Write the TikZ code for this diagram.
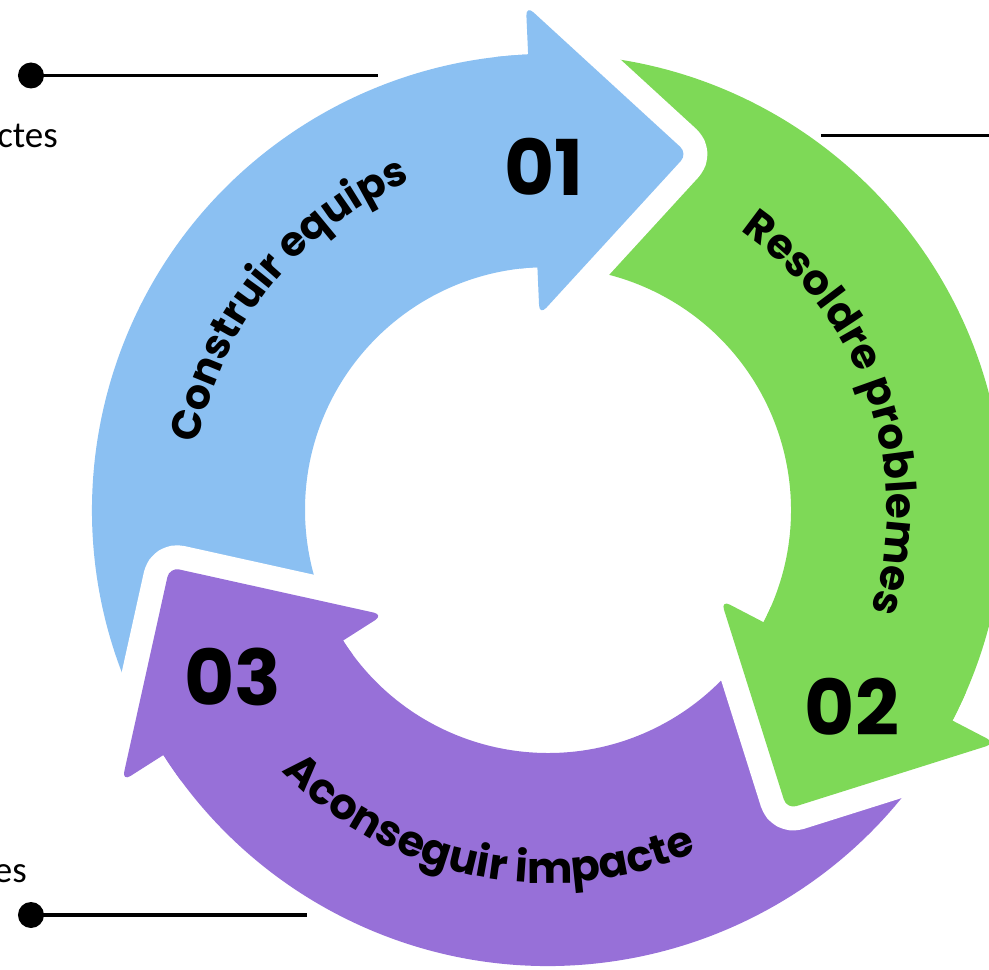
\documentclass[tikz,border=0pt]{standalone}
\usepackage{fontspec}
\setmainfont{Poppins}
\newfontfamily\carl{Carlito}
\usetikzlibrary{calc,decorations.text}
\definecolor{cblue}{HTML}{8BC0F2}
\definecolor{cgreen}{HTML}{7ED957}
\definecolor{cpurple}{HTML}{9770D8}

\begin{document}
\begin{tikzpicture}[x=1pt,y=1pt,
  gap/.style={white, line width=48pt, line join=round, rounded corners=10pt},
  num/.style={font=\bfseries\fontsize{77}{77}\selectfont, inner sep=0pt},
  lead/.style={line width=3.5pt},
  dot/.style={circle, fill=black, minimum size=26pt, inner sep=0pt},
  side/.style={font=\carl\fontsize{37}{37}\selectfont, anchor=base east, inner sep=0pt}
]
\useasboundingbox (-548,-460) rectangle (441,510);
\clip (-548,-460) rectangle (441,510);

% ring segments: inner radius 243, outer radius 456, each spanning 120 degrees
\foreach \H/\c in {92.5/cblue, -27.5/cgreen, 212.5/cpurple} {
  \fill[\c] (\H+120:456) arc[start angle=\H+120, end angle=\H, radius=456]
    -- (\H:243) arc[start angle=\H, end angle=\H+120, radius=243] -- cycle;
}

% arrow heads, each with a white margin cutting the notch into the next segment;
% a short piece of ring is filled with the head so the joint shows no seam
\foreach \H/\c in {92.5/cblue, -27.5/cgreen, 212.5/cpurple} {
  \coordinate (hA) at (\H:505);
  \coordinate (hB) at (\H:195);
  \coordinate (hT) at ($(\H:350)+(\H-90:155)$);
  \draw[gap] (hA) -- (hT) -- (hB);
  \fill[\c, rounded corners=10pt] (hA) -- (hT) -- (hB) -- cycle
    [sharp corners] (\H:456) arc[start angle=\H, end angle=\H+4, radius=456]
    -- (\H+4:243) arc[start angle=\H+4, end angle=\H, radius=243] -- cycle;
}

% curved captions
\path[decorate, decoration={text along path, text align=center,
  text={|\bfseries\fontsize{41}{41}\selectfont|Construir equips}}]
  (221:356) arc[start angle=221, end angle=61, radius=356];
\path[decorate, decoration={text along path, text align=center,
  text={|\bfseries\fontsize{42}{42}\selectfont|Resoldre problemes}}]
  (99:339) arc[start angle=99, end angle=-61, radius=339];
\path[decorate, decoration={text along path, text align=center,
  text={|\bfseries\fontsize{43}{43}\selectfont|Aconseguir impacte}}]
  (179:373) arc[start angle=179, end angle=339, radius=373];

% step numbers
\node[num] (n1) at (-4,343) {01};
\node[num] (n2) at (304,-197) {02};
\node[num] (n3) at (-315,-167) {03};

% leader lines
\node[dot] (d1) at (-517,434.5) {};
\coordinate (e1) at (-170,434.5);
\draw[lead] (d1.center) -- (e1);
\node[dot] (d2) at (-517,-405) {};
\coordinate (e2) at (-241,-405);
\draw[lead] (d2.center) -- (e2);
\coordinate (r0) at (273,374.3);
\coordinate (r1) at (450,374.3);
\draw[lead] (r0) -- (r1);

% side labels
\node[side] (l1) at (-490,362) {ctes};
\node[side] (l2) at (-521,-372) {es};
\end{tikzpicture}
\end{document}
